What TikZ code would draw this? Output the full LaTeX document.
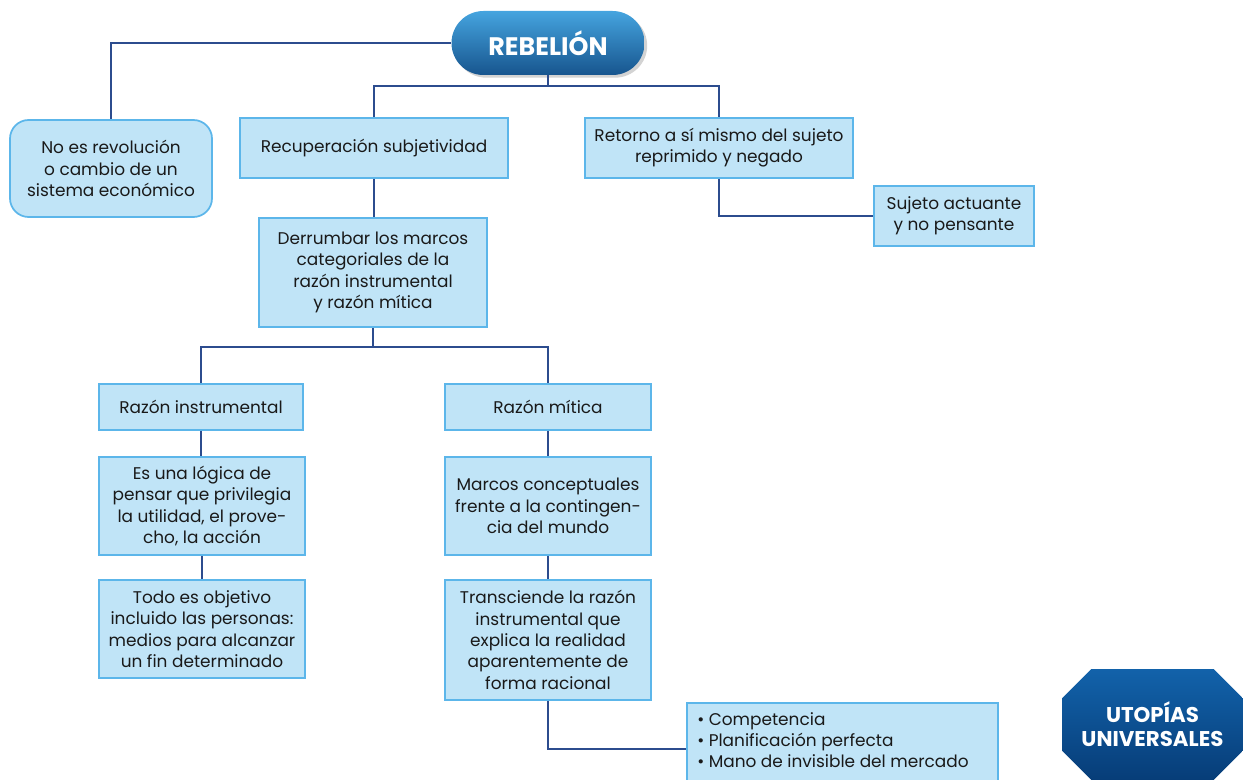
\documentclass[tikz,border=0pt]{standalone}
\usepackage{fontspec}
\setmainfont{Poppins}
\usetikzlibrary{shapes.misc,shadows}
\definecolor{boxfill}{HTML}{C0E4F7}
\definecolor{boxedge}{HTML}{5CB6EA}
\definecolor{wire}{HTML}{2C4C8E}
\definecolor{titletop}{HTML}{45A4DF}
\definecolor{titlemid}{HTML}{2F8ED2}
\definecolor{titlebot}{HTML}{17558E}
\definecolor{utotop}{HTML}{1262AA}
\definecolor{utomid}{HTML}{0B5AA3}
\definecolor{utobot}{HTML}{073D78}
\begin{document}
\begin{tikzpicture}[x=0.75pt,y=-0.75pt,
  every node/.style={inner sep=0pt,font=\fontsize{12.7}{16}\selectfont,text=black!90},
  concept/.style 2 args={draw=boxedge,line width=1.3pt,fill=boxfill,align=center,
    minimum width=#1*0.75pt,minimum height=#2*0.75pt},
  softbox/.style 2 args={concept={#1}{#2},rounded corners=14pt},
  link/.style={draw=wire,line width=0.9pt},
  titlepill/.style={rounded corners=24pt,minimum width=193*0.75pt,minimum height=64*0.75pt,
    shading=axis,top color=titletop,middle color=titlemid,bottom color=titlebot,
    drop shadow={shadow xshift=2pt,shadow yshift=-2pt,opacity=0.35},
    font=\fontsize{19}{22}\selectfont\bfseries,text=white},
  titleocta/.style={chamfered rectangle,chamfered rectangle xsep=11pt,chamfered rectangle ysep=11pt,
    minimum width=181*0.75pt,minimum height=111*0.75pt,
    shading=axis,top color=utotop,middle color=utomid,bottom color=utobot,
    font=\fontsize{16}{18}\selectfont\bfseries,text=white,align=center}]
\useasboundingbox (0,0) rectangle (1243,780);

% junction points of the branching connectors
\coordinate (j1) at (548,86);
\coordinate (j2) at (373,347);

% concept boxes
\node[softbox={202}{97}] (norev) at (111,168.5) {No es revolución\\o cambio de un\\sistema económico};
\node[concept={268}{60}] (recup) at (374,148) {Recuperación subjetividad};
\node[concept={268}{60}] (retorno) at (719,148) {Retorno a sí mismo del sujeto\\reprimido y negado};
\node[concept={160}{60}] (sujeto) at (954,216) {Sujeto actuante\\y no pensante};
\node[concept={228}{109}] (derr) at (373,272.5) {Derrumbar los marcos\\categoriales de la\\razón instrumental\\y razón mítica};
\node[concept={204}{46}] (rinst) at (201,407) {Razón instrumental};
\node[concept={206}{46}] (rmit) at (548,407) {Razón mítica};
\node[concept={206}{98}] (logica) at (202,506) {Es una lógica de\\pensar que privilegia\\la utilidad, el prove-\\cho, la acción};
\node[concept={206}{98}] (todo) at (202,629) {Todo es objetivo\\incluido las personas:\\medios para alcanzar\\un fin determinado};
\node[concept={206}{98}] (marcos) at (548,506) {Marcos conceptuales\\frente a la contingen-\\cia del mundo};
\node[concept={206}{120}] (trans) at (548,640) {Transciende la razón\\instrumental que\\explica la realidad\\aparentemente de\\forma racional};
\node[concept={311}{94},anchor=north west] (bullets) at (686,702) {};
\node[anchor=north west,align=left] (bullettxt) at (697,712) {\textbullet\ Competencia\\\textbullet\ Planificación perfecta\\\textbullet\ Mano de invisible del mercado};

% title shapes
\node[titlepill] (rebel) at (548,43) {REBELIÓN};
\node[titleocta] (utopia) at (1152.5,724.5) {UTOPÍAS\\UNIVERSALES};

% connectors
\draw[link] (rebel.west) -| (norev.north);
\draw[link] (rebel.south) -- (j1);
\draw[link] (recup.north) |- (j1) -| (retorno.north);
\draw[link] (retorno.south) |- (sujeto.west);
\draw[link] (recup.south) -- (recup.south |- derr.north);
\draw[link] (derr.south) -- (j2);
\draw[link] (rinst.north) |- (j2) -| (rmit.north);
\draw[link] (rinst.south) -- (rinst.south |- logica.north);
\draw[link] (logica.south) -- (logica.south |- todo.north);
\draw[link] (rmit.south) -- (marcos.north);
\draw[link] (marcos.south) -- (trans.north);
\draw[link] (trans.south) |- (bullets.west |- 0,749);
\end{tikzpicture}
\end{document}
